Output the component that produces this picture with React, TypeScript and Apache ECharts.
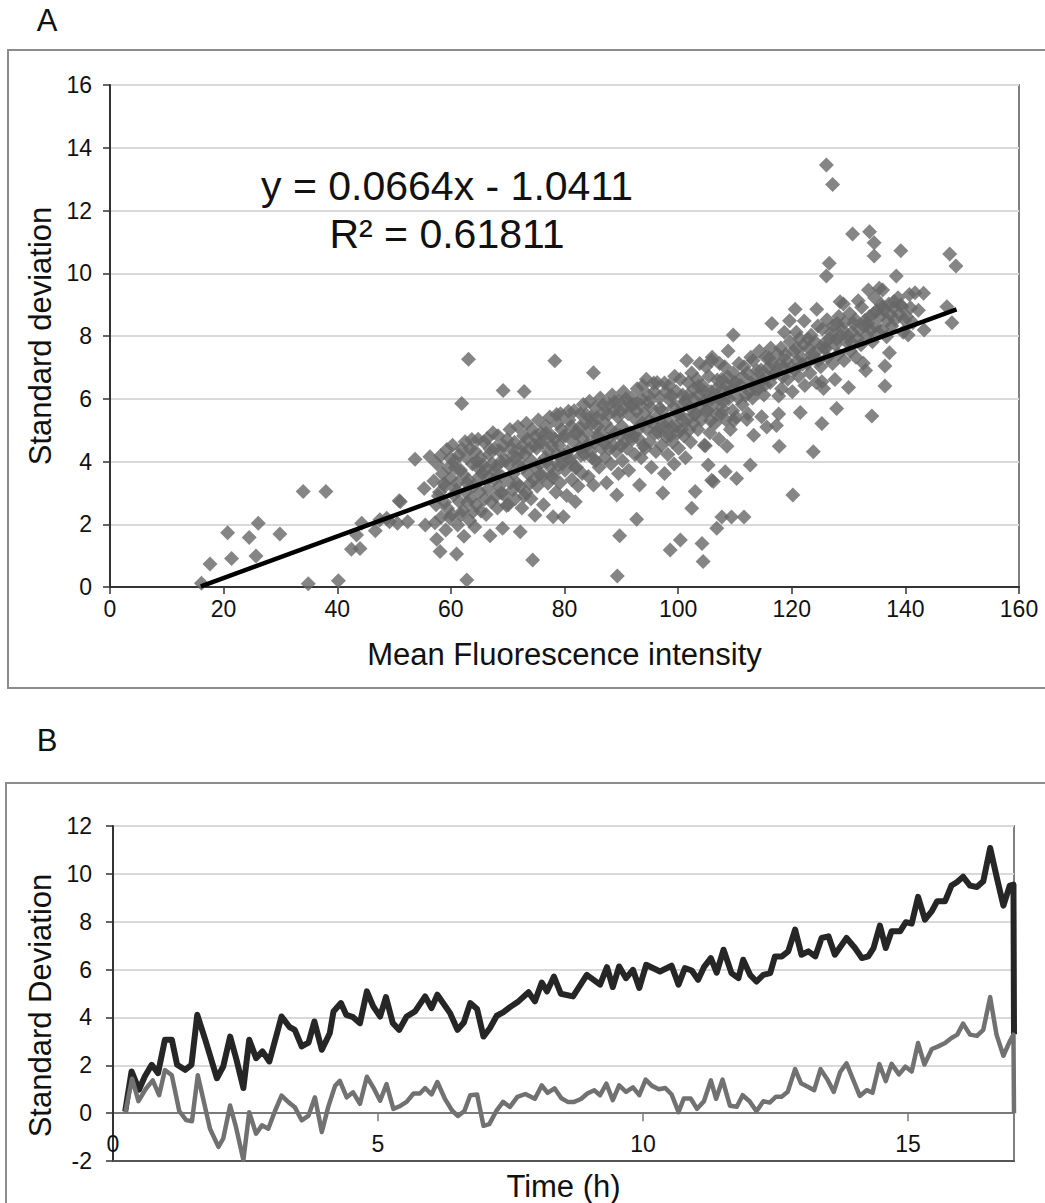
import React, { useEffect, useRef } from "react";
import * as echarts from "echarts";

// ---------- Panel A data (Mean fluorescence intensity vs standard deviation) ----------
const scatterSparse: number[][] = [
  [16.1,0.12],[17.6,0.73],[20.7,1.73],[21.4,0.91],[24.5,1.58],[25.7,0.99],[26.1,2.03],[29.9,1.69],
  [34.0,3.04],[34.9,0.10],[38.0,3.04],[40.2,0.20],[42.5,1.20],[43.4,1.66],[44.0,1.23],[44.3,2.03],
  [46.7,1.79],[47.5,2.14],[48.7,2.19],[49.2,2.08],[50.6,2.03],[50.9,2.75],[51.1,2.72],[52.4,2.08],
  [53.7,4.07],[55.3,3.14],[55.5,1.98],[56.3,4.15],[57.5,1.52],[58.1,1.13],[61.0,1.05],[62.8,0.22],
  [61.9,5.85],[63.1,7.26],[66.9,1.63],[69.1,1.87],[69.2,6.26],[72.2,1.76],[72.9,6.23],[74.4,0.86],
  [74.8,2.29],[78.0,2.24],[78.3,7.21],[79.8,2.24],[81.9,2.72],[85.1,3.25],[85.1,6.83],[89.2,2.93],
  [89.7,1.63],[89.3,0.35],[92.7,2.16],[93.2,3.25],[97.3,3.00],[98.6,1.18],[100.4,1.50],[102.4,2.51],
  [103.0,3.04],[104.2,1.39],[104.4,0.81],[104.8,4.50],[105.3,3.89],[105.9,3.40],[106.2,3.36],[106.8,1.87],
  [107.7,2.23],[108.3,3.67],[108.6,4.49],[109.4,2.23],[110.3,3.46],[111.6,2.23],[112.7,3.89],[120.2,2.93],
  [123.8,4.31],[126.1,13.45],[127.2,12.83],[130.7,11.25],[133.7,11.32],[134.5,10.97],[134.5,10.55],
  [139.2,10.72],[147.8,10.61],[148.9,10.23]
];

const scatterCoreLow: number[][] = [
  [57.2,2.05],[57.4,2.62],[57.0,3.38],[57.6,3.92],[58.3,2.22],[58.0,3.02],[58.5,3.61],[58.2,4.18],
  [59.1,1.82],[59.4,2.51],[59.0,3.22],[59.6,3.81],[59.3,4.38],[60.2,2.31],[60.5,2.93],[60.0,3.47],
  [60.7,4.02],[60.3,4.52],[61.2,1.98],[61.5,2.72],[61.1,3.31],[61.7,3.73],[61.4,4.21],[62.3,1.62],
  [62.1,2.43],[62.6,3.02],[62.2,3.58],[62.8,4.12],[62.5,4.63],[63.3,2.12],[63.6,2.83],[63.1,3.41],
  [63.8,3.92],[63.4,4.41],[64.2,1.91],[64.5,2.61],[64.0,3.22],[64.7,3.82],[64.3,4.32],[64.8,4.71],
  [65.3,2.42],[65.1,3.03],[65.6,3.62],[65.2,4.12],[65.8,4.62],
  [66.2,2.31],[66.5,3.12],[66.0,3.71],[66.7,4.22],[66.4,4.73],[67.1,2.72],[67.6,3.42],[67.3,3.93],
  [67.8,4.43],[67.4,4.92],[68.2,2.52],[68.5,3.21],[68.0,3.83],[68.7,4.32],[68.3,4.82],[69.4,2.93],
  [69.0,3.52],[69.6,4.02],[69.2,4.51],[70.1,2.62],[70.5,3.32],[70.2,3.91],[70.7,4.42],[70.4,5.02],
  [71.3,2.81],[71.0,3.62],[71.6,4.12],[71.2,4.61],[71.8,5.11],[72.5,2.52],[72.1,3.21],[72.7,3.82],
  [72.3,4.31],[72.8,4.82],[73.2,3.02],[73.6,3.61],[73.0,4.22],[73.5,4.71],[73.3,5.22],[74.1,2.81],
  [74.6,3.42],[74.2,4.02],[74.7,4.51],[74.3,5.02]
];

const scatterCoreMid: number[][] = [
  [75.2,3.21],[75.6,3.92],[75.1,4.42],[75.8,4.91],[75.4,5.32],[76.3,2.62],[76.0,3.52],[76.6,4.12],
  [76.2,4.62],[76.8,5.12],[77.1,3.31],[77.5,3.82],[77.2,4.32],[77.7,4.82],[77.4,5.42],[78.5,3.02],
  [78.1,3.62],[78.7,4.22],[78.3,4.72],[78.8,5.22],[79.2,3.32],[79.6,3.92],[79.0,4.52],[79.5,5.02],
  [79.3,5.52],[80.4,2.92],[80.1,3.72],[80.6,4.32],[80.2,4.82],[80.8,5.32],[81.3,3.42],[81.0,4.02],
  [81.6,4.62],[81.2,5.12],[81.7,5.62],[82.4,3.22],[82.1,3.82],[82.6,4.42],[82.3,4.92],[82.8,5.52],
  [83.1,3.62],[83.5,4.22],[83.2,4.72],[83.7,5.22],[83.3,5.82],
  [84.2,3.52],[84.6,4.32],[84.1,4.92],[84.7,5.42],[84.4,5.92],[85.5,4.02],[85.2,4.62],[85.8,5.12],
  [85.4,5.72],[86.1,3.82],[86.5,4.42],[86.2,4.92],[86.7,5.52],[86.3,6.02],[87.4,3.32],[87.1,4.12],
  [87.6,4.72],[87.2,5.22],[87.8,5.82],[88.2,3.92],[88.6,4.52],[88.1,5.02],[88.7,5.62],[88.4,6.12],
  [89.5,3.62],[89.1,4.32],[89.8,4.82],[89.4,5.42],[89.6,5.92],[90.2,4.02],[90.6,4.62],[90.1,5.12],
  [90.7,5.72],[90.4,6.22],[91.3,3.72],[91.0,4.42],[91.6,4.92],[91.2,5.52],[91.8,6.02],[92.4,4.22],
  [92.1,4.82],[92.6,5.32],[92.2,5.82],[92.8,6.32]
];

const scatterCoreHigh: number[][] = [
  [93.5,4.12],[93.1,4.72],[93.7,5.22],[93.3,5.82],[93.8,6.42],[94.2,4.42],[94.6,5.02],[94.1,5.52],
  [94.7,6.12],[94.4,6.62],[95.3,3.82],[95.0,4.62],[95.6,5.22],[95.2,5.72],[95.8,6.22],[96.1,4.32],
  [96.5,4.92],[96.2,5.42],[96.7,6.02],[96.3,6.52],[97.6,3.62],[97.1,4.52],[97.7,5.12],[97.2,5.62],
  [97.8,6.22],[98.2,4.22],[98.6,4.82],[98.1,5.32],[98.7,5.92],[98.4,6.42],[99.3,3.92],[99.0,4.62],
  [99.6,5.12],[99.2,5.72],[99.7,6.22],[99.4,6.72],[100.1,4.42],[100.6,5.02],[100.2,5.52],[100.8,6.12],
  [100.4,6.62],[101.3,4.12],[101.0,4.82],[101.6,5.32],[101.2,5.92],[101.8,6.52],[101.5,7.22],
  [102.2,4.62],[102.7,5.22],[102.1,5.72],[102.8,6.32],[102.4,6.82],[103.5,5.02],[103.1,5.52],[103.7,6.12],
  [103.3,6.62],[103.8,7.12],[104.6,4.52],[104.1,5.32],[104.7,5.92],[104.3,6.42],[104.9,7.02],[105.6,4.92],
  [105.2,5.62],[105.8,6.22],[105.4,6.72],[105.9,7.22],[106.5,5.22],[106.1,5.82],[106.7,6.32],[106.0,7.32],
  [107.2,4.72],[107.6,5.52],[107.1,6.02],[107.7,6.62],[107.3,7.12],[108.4,5.32],[108.0,5.92],[108.6,6.42],
  [108.2,7.02],[108.8,7.52],[109.2,5.02],[109.6,5.62],[109.1,6.22],[109.7,6.82],[109.7,8.03],[110.2,5.42],
  [110.6,6.02],[110.1,6.52],[110.7,7.12]
];

const scatterCoreFill: number[][] = [
  [57.8,2.9],[58.8,3.3],[58.9,2.7],[59.8,2.2],[59.9,4.1],[60.9,3.1],[60.8,3.8],[61.8,2.3],[61.9,4.4],
  [62.9,2.7],[62.9,3.3],[63.9,2.4],[63.7,4.7],[64.9,3.5],[64.6,4.0],[65.9,2.8],[65.7,3.9],[66.8,3.5],
  [66.9,4.4],[67.9,2.9],[67.7,3.7],[68.8,4.0],[68.9,3.0],[69.8,2.6],[69.9,4.7],[70.9,3.1],[70.8,4.2],
  [71.9,3.9],[71.7,3.3],[72.9,2.9],[72.6,4.5],[73.9,3.3],[73.8,4.4],[74.9,3.8],[74.8,4.8],[75.9,3.6],
  [75.7,4.6],[76.9,4.0],[76.7,4.9],[77.9,3.5],[77.8,4.5],[78.9,3.9],[78.6,5.5],[79.9,4.2],[79.8,4.8],
  [80.9,4.1],[80.7,5.6],[81.9,3.8],[81.8,4.9],[82.9,4.2],[82.7,5.1],[83.9,4.5],[83.8,5.5],[84.9,4.1],
  [84.8,5.2],[85.9,4.8],[85.7,5.4],[86.9,4.6],[86.8,5.8],[87.9,4.4],[87.7,5.5],[88.9,4.9],[88.8,5.9],
  [89.9,4.5],[89.8,5.6],[90.9,4.9],[90.8,6.0],[91.9,4.7],[91.7,5.8],[92.9,5.0],[92.7,5.6],[93.9,4.5],
  [93.6,6.0],[94.9,5.3],[94.8,5.9],[95.9,4.9],[95.7,6.5],[96.9,5.1],[96.8,5.7],[97.9,4.8],[97.6,6.5],
  [98.9,5.1],[98.8,6.1],[99.9,4.9],[99.8,5.5],[100.9,5.3],[100.7,5.8],[101.9,5.0],[101.7,6.1],[102.9,5.5],
  [102.6,6.0],[103.9,5.8],[103.6,6.4],[104.9,5.6],[104.8,6.2],[105.9,6.0],[105.7,5.3],[106.9,6.6],
  [106.8,5.5],[107.9,6.3],[107.8,5.7],[108.9,6.0],[108.7,6.7],[109.9,6.5],[109.8,5.3]
];

const scatterRight: number[][] = [
  [111.3,5.82],[111.0,6.42],[111.6,7.02],[112.1,5.34],[112.3,5.52],[112.6,6.22],[112.2,6.82],[112.8,7.32],
  [113.3,4.84],[113.1,6.02],[113.6,6.62],[113.2,7.22],[114.7,5.43],[114.2,6.32],[114.6,6.92],[114.3,7.52],
  [115.6,5.10],[115.3,6.44],[115.1,6.12],[115.7,6.72],[115.4,7.32],[116.5,8.40],[116.2,6.52],[116.6,7.12],
  [116.3,7.62],[117.3,5.15],[117.7,6.09],[117.7,5.51],[117.8,4.49],[117.2,6.82],[117.5,7.42],[118.2,6.32],
  [118.6,7.02],[118.1,7.62],[118.7,8.12],[119.3,6.62],[119.1,7.22],[119.7,7.82],[119.6,8.49],[120.1,6.22],
  [120.5,6.92],[120.3,7.52],[120.8,8.12],[120.6,8.85],[121.5,5.56],[121.2,6.72],[121.7,7.32],[121.4,7.92],
  [122.3,6.42],[122.7,7.12],[122.1,7.72],[122.2,8.48],[123.2,6.82],[123.6,7.42],[123.4,8.02],[124.3,6.52],
  [124.7,7.22],[124.1,7.82],[124.4,8.85],[124.6,8.32],[125.3,5.21],[125.3,6.54],[125.6,6.33],[125.1,7.02],
  [125.7,7.62],[125.4,8.22],[126.1,9.91],[126.6,10.32],[126.3,7.32],[126.7,7.92],[126.2,8.52],[127.6,6.61],
  [127.2,7.12],[127.7,7.72],[127.3,8.32],[127.9,5.69],[128.5,9.09],[128.2,7.42],[128.6,8.02],[128.3,8.62],
  [129.2,7.22],[129.6,7.82],[129.3,8.42],[129.1,9.02],[130.0,6.36],[130.3,7.52],[130.6,8.12],[130.2,8.72],
  [131.3,7.32],[131.6,7.92],[131.2,8.52],[131.7,9.12],[132.6,7.13],[132.2,7.72],[132.7,8.32],[132.3,8.92],
  [133.0,6.90],[133.5,9.47],[133.2,8.02],[133.7,8.62],[134.1,5.45],[134.4,8.72],[134.2,7.82],[134.7,8.32],
  [134.6,9.22],[135.9,8.93],[135.2,8.12],[135.6,8.62],[135.4,9.52],[136.0,9.47],[136.7,7.98],[136.4,7.04],
  [136.4,6.41],[136.2,8.82],[137.2,7.47],[137.3,8.69],[137.6,8.32],[137.1,9.02],[138.4,9.91],[138.2,8.52],
  [138.7,9.22],[139.2,8.99],[139.4,8.93],[139.6,8.12],[140.5,8.03],[140.2,8.62],[140.7,9.32],[141.3,8.42],
  [141.7,9.38],[142.3,8.82],[143.2,9.36],[143.3,8.19],[147.3,8.93],[148.2,8.42],
  [111.9,6.1],[112.9,6.5],[113.9,6.9],[114.9,6.6],[115.9,7.0],[116.9,6.8],[117.9,7.1],[118.9,7.4],
  [119.9,7.0],[120.9,7.6],[121.9,7.1],[122.9,7.9],[123.9,7.3],[124.9,7.6],[125.9,7.8],[126.9,8.1],
  [127.9,7.9],[128.9,8.2],[129.9,8.0],[130.9,8.4],[131.9,8.2],[132.9,8.5],[133.9,8.2],[134.9,8.8],
  [135.8,9.0],[136.9,8.5],[137.9,8.9],[138.9,8.7],[139.9,8.5],[140.9,8.9],
  [111.4,6.7],[113.7,6.3],[116.0,7.3],[118.4,6.7],[121.0,7.2],[123.0,7.6],[126.0,7.6],[128.0,8.4],
  [130.5,7.8],[133.4,8.4],[136.0,8.2],[138.0,9.1]
];

// Trend line end points (y = 0.0664x - 1.0411)
const trendLine: number[][] = [[16, 0.02], [149, 8.85]];

// ---------- Panel B data (time course of standard deviation) ----------
const darkTime = [
  0.23,0.35,0.49,0.60,0.73,0.85,0.98,1.11,1.21,1.36,1.48,1.59,1.74,1.96,2.08,2.21,2.33,2.46,2.57,2.70,
  2.82,2.95,3.18,3.33,3.43,3.56,3.69,3.80,3.94,4.09,4.16,4.30,4.40,4.53,4.66,4.79,4.91,5.04,5.15,5.28,
  5.40,5.54,5.70,5.89,6.01,6.12,6.36,6.50,6.62,6.74,6.87,6.99,7.11,7.24,7.36,7.49,7.65,7.84,7.96,8.09,
  8.19,8.32,8.45,8.68,8.94,9.19,9.32,9.43,9.55,9.68,9.81,9.93,10.06,10.32,10.54,10.67,10.79,10.92,11.04,11.15,
  11.28,11.39,11.52,11.67,11.80,11.89,12.02,12.14,12.27,12.40,12.49,12.62,12.74,12.87,12.99,13.12,13.25,13.37,13.50,13.62,
  13.84,14.00,14.13,14.25,14.35,14.47,14.58,14.69,14.85,14.96,15.07,15.19,15.32,15.45,15.55,15.70,15.82,15.92,16.04,16.17,
  16.30,16.42,16.55,16.67,16.80,16.92,16.99,17.0
];
const darkSD = [
  0.07,1.74,0.98,1.53,2.02,1.67,3.07,3.07,2.02,1.81,2.02,4.11,3.07,1.46,1.95,3.20,2.23,1.05,3.07,2.30,
  2.58,2.16,4.04,3.60,3.48,2.79,2.95,3.83,2.65,3.34,4.25,4.60,4.11,4.01,3.76,5.09,4.46,4.04,4.85,3.76,
  3.48,4.04,4.25,4.88,4.39,4.95,4.18,3.48,3.79,4.60,4.35,3.20,3.55,4.07,4.21,4.43,4.67,5.05,4.67,5.46,
  5.09,5.71,4.99,4.88,5.78,5.37,6.10,5.27,6.13,5.64,5.99,5.23,6.20,5.92,6.16,5.37,6.06,5.96,5.57,6.10,
  6.48,5.87,6.83,5.85,5.64,6.41,5.78,5.50,5.78,5.85,6.55,6.55,6.76,7.67,6.62,6.76,6.55,7.32,7.39,6.62,
  7.32,6.90,6.48,6.55,6.90,7.84,6.90,7.60,7.60,7.98,7.92,9.04,8.09,8.44,8.86,8.86,9.51,9.65,9.88,9.51,
  9.45,9.69,11.08,9.90,8.67,9.51,9.55,3.30
];

const greyTime = [
  0.23,0.36,0.48,0.62,0.75,0.87,0.98,1.11,1.25,1.38,1.49,1.60,1.83,1.99,2.08,2.21,2.32,2.46,2.57,2.70,
  2.81,2.93,3.06,3.18,3.31,3.43,3.56,3.69,3.81,3.94,4.06,4.19,4.28,4.41,4.53,4.66,4.79,4.91,5.04,5.16,
  5.29,5.42,5.54,5.67,5.79,5.89,6.01,6.12,6.26,6.40,6.51,6.63,6.74,6.87,6.99,7.10,7.24,7.36,7.49,7.63,
  7.78,7.96,8.09,8.20,8.33,8.46,8.58,8.70,8.83,8.95,9.08,9.19,9.31,9.43,9.55,9.68,9.81,9.93,10.05,10.17,
  10.30,10.42,10.54,10.67,10.77,10.90,11.02,11.15,11.28,11.38,11.50,11.64,11.77,11.88,12.01,12.14,12.27,12.39,12.51,12.62,
  12.73,12.87,12.98,13.11,13.23,13.35,13.48,13.60,13.72,13.84,13.97,14.09,14.22,14.33,14.46,14.58,14.69,14.83,14.95,15.07,
  15.19,15.31,15.45,15.57,15.70,15.82,15.93,16.04,16.17,16.30,16.42,16.55,16.67,16.80,16.92,16.99,17.0
];
const greySD = [
  0.00,1.44,0.50,1.02,1.37,0.75,1.80,1.58,0.09,-0.29,-0.34,1.58,-0.65,-1.41,-1.06,0.32,-0.58,-1.96,0.04,-0.86,
  -0.51,-0.65,0.11,0.73,0.46,0.25,-0.30,-0.10,0.66,-0.79,0.25,1.14,1.35,0.66,0.87,0.39,1.52,1.08,0.52,1.21,
  0.18,0.30,0.47,0.82,0.82,1.05,0.78,1.30,0.61,0.10,-0.12,0.09,0.75,0.78,-0.53,-0.46,0.12,0.47,0.26,0.68,
  0.80,0.60,1.16,0.85,1.04,0.62,0.47,0.47,0.59,0.82,0.96,0.75,1.23,0.54,1.16,0.89,1.08,0.75,1.40,1.14,
  1.00,1.05,0.78,0.04,0.61,0.61,0.18,0.50,1.37,0.60,1.40,0.31,0.27,0.75,0.50,0.08,0.50,0.44,0.69,0.69,
  0.89,1.84,1.25,1.10,0.96,1.84,1.40,0.89,1.72,2.08,1.37,0.72,0.96,0.85,2.05,1.34,2.06,1.62,1.94,1.74,
  2.93,2.03,2.68,2.79,2.93,3.14,3.28,3.74,3.28,3.23,3.48,4.85,3.28,2.40,3.00,3.28,0.00
];

// Tick positions on the zero line of panel B
const timeTicks = [5, 10, 15];

const FONT = "Liberation Sans, Arial, sans-serif";
const TXT = "#111111";

export default function App() {
  const ref = useRef<HTMLDivElement>(null);

  useEffect(() => {
    if (!ref.current) return;
    const chart = echarts.init(ref.current, undefined, { renderer: "svg" });

    const scatter = [
      ...scatterSparse,
      ...scatterCoreLow,
      ...scatterCoreMid,
      ...scatterCoreHigh,
      ...scatterCoreFill,
      ...scatterRight,
    ];
    const darkData = darkTime.map((t, i) => [t, darkSD[i]]);
    const greyData = greyTime.map((t, i) => [t, greySD[i]]);

    const axisLbl = { fontFamily: FONT, fontSize: 23, color: TXT };
    const nameStyle = { fontFamily: FONT, fontSize: 31, color: TXT };
    const GRID = "#d9d9d9";

    chart.setOption({
      animation: false,
      backgroundColor: "#ffffff",
      textStyle: { fontFamily: FONT },
      grid: [
        { left: 110, top: 85, width: 909, height: 502, show: true, borderColor: "#808080", borderWidth: 2, backgroundColor: "transparent", outerBoundsMode: "none", containLabel: false },
        { left: 113, top: 826, width: 901, height: 335, show: true, borderColor: "#808080", borderWidth: 2, backgroundColor: "transparent", outerBoundsMode: "none", containLabel: false },
      ],
      xAxis: [
        {
          gridIndex: 0, type: "value", min: 0, max: 160, interval: 20,
          name: "Mean Fluorescence intensity", nameLocation: "middle", nameGap: 52, nameTextStyle: nameStyle,
          axisLine: { show: true, onZero: false, lineStyle: { color: "#333333", width: 2 } },
          axisTick: { show: true, length: 7, lineStyle: { color: "#333333", width: 1.5 } },
          axisLabel: { ...axisLbl, margin: 10 },
          splitLine: { show: false },
        },
        {
          gridIndex: 1, type: "value", min: 0, max: 17, interval: 5,
          name: "Time (h)", nameLocation: "middle", nameGap: 10, nameTextStyle: nameStyle,
          axisLine: { show: true, onZero: false, lineStyle: { color: "#555555", width: 2 } },
          axisTick: { show: false },
          axisLabel: { ...axisLbl, margin: -29, showMaxLabel: false },
          splitLine: { show: false },
        },
      ],
      yAxis: [
        {
          gridIndex: 0, type: "value", min: 0, max: 16, interval: 2,
          name: "Standard deviation", nameLocation: "middle", nameGap: 54, nameTextStyle: nameStyle,
          axisLine: { show: true, lineStyle: { color: "#333333", width: 2 } },
          axisTick: { show: true, length: 7, lineStyle: { color: "#333333", width: 1.5 } },
          axisLabel: { ...axisLbl, margin: 18 },
          splitLine: { show: true, lineStyle: { color: GRID, width: 2 } },
        },
        {
          gridIndex: 1, type: "value", min: -2, max: 12, interval: 2,
          name: "Standard Deviation", nameLocation: "middle", nameGap: 57,
          nameTextStyle: { ...nameStyle, padding: [0, 24, 0, 0] },
          axisLine: { show: true, lineStyle: { color: "#333333", width: 2 } },
          axisTick: { show: true, length: 7, lineStyle: { color: "#333333", width: 1.5 } },
          axisLabel: { ...axisLbl, margin: 21 },
          splitLine: { show: true, lineStyle: { color: [GRID, "#7a7a7a", GRID, GRID, GRID, GRID, GRID, GRID], width: 2 } },
        },
      ],
      series: [
        {
          type: "scatter", xAxisIndex: 0, yAxisIndex: 0, data: scatter,
          symbol: "diamond", symbolSize: 15,
          itemStyle: { color: "#676767" }, z: 2,
        },
        {
          type: "line", xAxisIndex: 0, yAxisIndex: 0, data: trendLine,
          showSymbol: false, symbol: "none",
          lineStyle: { color: "#000000", width: 4.5 }, z: 3,
        },
        {
          type: "custom", xAxisIndex: 1, yAxisIndex: 1, data: timeTicks.map((t) => [t, 0]),
          silent: true, z: 2,
          renderItem: (_params: any, api: any) => {
            const p = api.coord([api.value(0), api.value(1)]);
            return {
              type: "line",
              shape: { x1: p[0], y1: p[1], x2: p[0], y2: p[1] + 8 },
              style: { stroke: "#7a7a7a", lineWidth: 1.5 },
            };
          },
        },
        {
          type: "line", xAxisIndex: 1, yAxisIndex: 1, data: darkData,
          showSymbol: false, symbol: "none",
          lineStyle: { color: "#262626", width: 6, join: "round" }, z: 3,
        },
        {
          type: "line", xAxisIndex: 1, yAxisIndex: 1, data: greyData,
          showSymbol: false, symbol: "none",
          lineStyle: { color: "#717171", width: 4.5, join: "round" }, z: 4,
        },
      ],
      graphic: [
        { type: "rect", shape: { x: 8, y: 50, width: 1100, height: 638 }, style: { fill: "none", stroke: "#8c8c8c", lineWidth: 2 }, z: 0, silent: true },
        { type: "rect", shape: { x: 6, y: 783, width: 1100, height: 500 }, style: { fill: "none", stroke: "#8c8c8c", lineWidth: 2 }, z: 0, silent: true },
        { type: "text", x: 47, y: 20, style: { text: "A", fontFamily: FONT, fontSize: 31, fill: TXT, textAlign: "center", textVerticalAlign: "middle" } },
        { type: "text", x: 47, y: 740, style: { text: "B", fontFamily: FONT, fontSize: 31, fill: TXT, textAlign: "center", textVerticalAlign: "middle" } },
        { type: "text", x: 447, y: 186, style: { text: "y = 0.0664x - 1.0411", fontFamily: FONT, fontSize: 41, fill: TXT, textAlign: "center", textVerticalAlign: "middle" }, z: 10 },
        { type: "text", x: 447, y: 234, style: { text: "R² = 0.61811", fontFamily: FONT, fontSize: 41, fill: TXT, textAlign: "center", textVerticalAlign: "middle" }, z: 10 },
      ],
    });

    return () => chart.dispose();
  }, []);

  return (
    <div
      ref={ref}
      style={{ position: "absolute", left: 0, top: 0, width: 1045, height: 1203, background: "#fff" }}
    />
  );
}
